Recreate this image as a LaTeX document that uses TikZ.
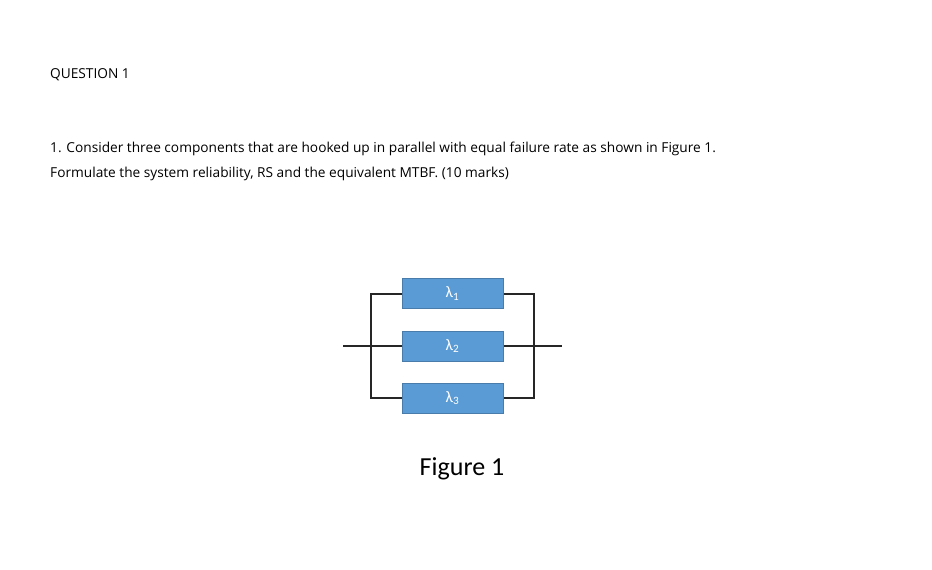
\documentclass[tikz,border=0pt]{standalone}
\usepackage{fontspec}
\setmainfont{Carlito}
\newfontfamily\bodyfont{Open Sans}
\definecolor{boxblue}{HTML}{5B9BD5}
\begin{document}
\begin{tikzpicture}[x=1pt,y=-1pt,
  comp/.style={fill=boxblue,draw=boxblue!80!black,line width=0.4pt,minimum width=101pt,minimum height=30pt,inner sep=0pt,text=white,font=\fontsize{16}{18}\selectfont},
  txt/.style={anchor=base west,inner sep=0pt,font=\bodyfont\fontsize{13.7}{17}\selectfont},
  wire/.style={line width=1.6pt,black!85}]
\useasboundingbox (0,0) rectangle (932,570);
\node[txt] (q) at (50,78) {QUESTION 1};
\node[txt] (l1) at (50,152) {1. Consider three components that are hooked up in parallel with equal failure rate as shown in Figure 1.};
\node[txt] (l2) at (50,177) {Formulate the system reliability, RS and the equivalent MTBF. (10 marks)};
\coordinate (lt) at (371,294); \coordinate (lb) at (371,398);
\coordinate (rt) at (534,294); \coordinate (rb) at (534,398);
\coordinate (lin) at (343,346); \coordinate (rout) at (562,346);
\draw[wire] (lin) -- (452,346) -- (rout);
\draw[wire] (402,294) -- (lt) -- (lb) -- (402,398);
\draw[wire] (503,294) -- (rt) -- (rb) -- (503,398);
\node[comp] (c1) at (452.5,293.5) {λ\textsubscript{1}};
\node[comp] (c2) at (452.5,346) {λ\textsubscript{2}};
\node[comp] (c3) at (452.5,398) {λ\textsubscript{3}};
\node[anchor=base,inner sep=0pt,font=\fontsize{26}{30}\selectfont] (fig) at (462,475) {Figure 1};
\end{tikzpicture}
\end{document}
